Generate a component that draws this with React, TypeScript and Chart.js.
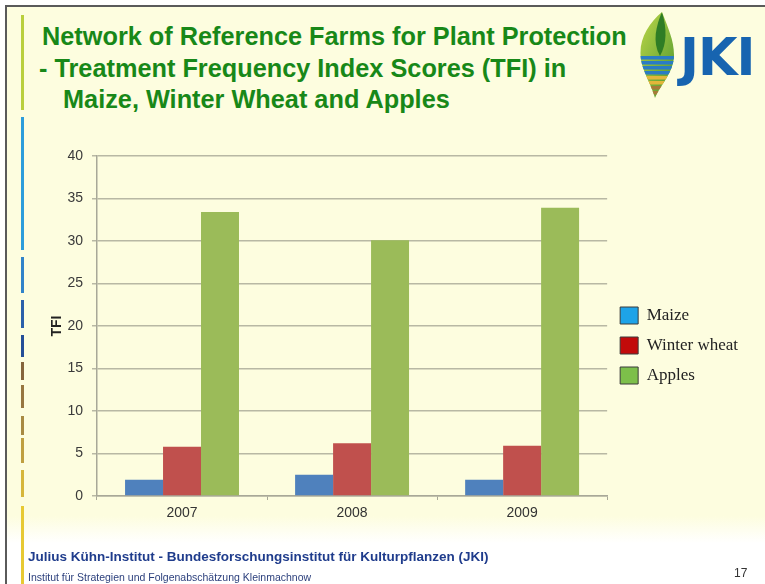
import React, { useEffect, useRef } from "react";
import { Chart, registerables } from "chart.js";

Chart.register(...registerables);

const categories = ["2007", "2008", "2009"];
const seriesNames = ["Maize", "Winter wheat", "Apples"];
const maizeValues = [1.9, 2.5, 1.9];
const wheatValues = [5.8, 6.2, 5.9];
const applesValues = [33.4, 30.1, 33.9];
const barColors = ["#4f81bd", "#c0504d", "#9bbb59"];
const legendColors = ["#1ea3e8", "#c20a0a", "#7dbf4a"];
const yTickStep = 5;
const yMin = 0;
const yMax = 40;

const titleLines = [
  "Network of Reference Farms for Plant Protection",
  "- Treatment Frequency Index Scores (TFI) in",
  "Maize, Winter Wheat and Apples",
];
const footerMain = "Julius Kühn-Institut - Bundesforschungsinstitut für Kulturpflanzen (JKI)";
const footerSub = "Institut für Strategien und Folgenabschätzung Kleinmachnow";
const pageNumber = "17";

const stripeSegments: [number, number, string][] = [
  [15, 110, "#b9cf3c"],
  [117, 250, "#2c9ddb"],
  [257, 293, "#3183c9"],
  [300, 328, "#2b60aa"],
  [335, 357, "#244e97"],
  [362, 380, "#86653c"],
  [385, 408, "#977640"],
  [416, 435, "#a88a42"],
  [438, 463, "#bf9f40"],
  [470, 497, "#d6b63a"],
  [506, 584, "#e7c933"],
];

export default function App() {
  const canvasRef = useRef<HTMLCanvasElement | null>(null);

  useEffect(() => {
    const canvas = canvasRef.current;
    if (!canvas) return;
    const tickFont = { family: "'Liberation Sans', Arial, sans-serif", size: 14 };
    const chart = new Chart(canvas, {
      type: "bar",
      data: {
        labels: categories,
        datasets: [
          { label: seriesNames[0], data: maizeValues, backgroundColor: barColors[0] },
          { label: seriesNames[1], data: wheatValues, backgroundColor: barColors[1] },
          { label: seriesNames[2], data: applesValues, backgroundColor: barColors[2] },
        ],
      },
      options: {
        responsive: false,
        animation: false,
        maintainAspectRatio: false,
        layout: { padding: { left: 40, top: 156, right: 17, bottom: 58 } },
        datasets: { bar: { categoryPercentage: 0.67, barPercentage: 1.0 } },
        plugins: {
          tooltip: { enabled: false },
          legend: {
            position: "right",
            align: "start",
            title: { display: true, text: "", font: { size: 10 }, padding: { top: 126, bottom: 0 } },
            labels: {
              boxWidth: 18,
              boxHeight: 17,
              padding: 13,
              color: "#222222",
              font: { family: "'Liberation Serif', 'Times New Roman', serif", size: 17 },
              generateLabels: () =>
                seriesNames.map((n, i) => ({
                  text: n,
                  fillStyle: legendColors[i],
                  strokeStyle: "#3a3a3a",
                  lineWidth: 1,
                  hidden: false,
                  datasetIndex: i,
                  fontColor: "#222222",
                })),
            },
          },
        },
        scales: {
          x: {
            grid: {
              display: true,
              drawOnChartArea: false,
              drawTicks: true,
              tickLength: 4,
              color: "#a8a898",
              offset: true,
            },
            border: { display: true, color: "#a8a898", width: 1.5 },
            ticks: { font: tickFont, color: "#333333", padding: 5 },
            afterFit: (s: any) => {
              s.height = 30;
            },
          },
          y: {
            min: yMin,
            max: yMax,
            ticks: { stepSize: yTickStep, font: tickFont, color: "#3a3a3a", padding: 9 },
            grid: { color: "#b8b8a4", lineWidth: 1.5, tickLength: 5 },
            border: { display: true, color: "#a8a898", width: 1.5 },
            title: {
              display: true,
              text: "TFI",
              color: "#222222",
              font: { family: "'Liberation Sans', Arial, sans-serif", size: 14, weight: "bold" },
              padding: { top: 9, bottom: 0 },
            },
            afterFit: (s: any) => {
              s.width = 57;
            },
          },
        },
      },
    } as any);
    return () => chart.destroy();
  }, []);

  const titleStyle: React.CSSProperties = {
    position: "absolute",
    fontFamily: "'Liberation Sans', Arial, sans-serif",
    fontWeight: "bold",
    fontSize: 25.3,
    color: "#188818",
    whiteSpace: "nowrap",
    lineHeight: "30px",
  };

  return (
    <div
      style={{
        position: "fixed",
        left: 0,
        top: 0,
        width: 765,
        height: 584,
        background: "#ffffff",
        overflow: "hidden",
      }}
    >
      {/* slide background */}
      <div
        style={{
          position: "absolute",
          left: 7,
          top: 7,
          width: 758,
          height: 536,
          background: "linear-gradient(to bottom, #fdfddf 0%, #fdfddf 95%, #ffffff 100%)",
        }}
      />
      {/* frame */}
      <div style={{ position: "absolute", left: 5, top: 5, width: 760, height: 2, background: "#5a5a5a" }} />
      <div style={{ position: "absolute", left: 5, top: 5, width: 2, height: 579, background: "#5a5a5a" }} />
      {/* decorative stripe */}
      {stripeSegments.map(([y0, y1, c], i) => (
        <div key={i} style={{ position: "absolute", left: 21, top: y0, width: 3, height: y1 - y0, background: c }} />
      ))}
      {/* title */}
      <div style={{ ...titleStyle, left: 42, top: 21 }}>{titleLines[0]}</div>
      <div style={{ ...titleStyle, left: 39, top: 53 }}>{titleLines[1]}</div>
      <div style={{ ...titleStyle, left: 63, top: 84 }}>{titleLines[2]}</div>
      {/* logo */}
      <svg style={{ position: "absolute", left: 636, top: 10 }} width={44} height={90} viewBox="0 0 44 90">
        <defs>
          <clipPath id="leafClip">
            <path d="M26 2 C12 14 2 30 5 50 C7 62 15 74 19 88 C25 74 38 62 38 45 C38 30 32 18 26 2 Z" />
          </clipPath>
          <linearGradient id="leafGrad" x1="0" y1="0" x2="1" y2="1">
            <stop offset="0" stopColor="#c7dc4a" />
            <stop offset="1" stopColor="#3f8f2c" />
          </linearGradient>
        </defs>
        <g clipPath="url(#leafClip)">
          <rect x="0" y="0" width="44" height="90" fill="url(#leafGrad)" />
          {[46, 51, 56, 61].map((y, i) => (
            <rect key={"b" + i} x="0" y={y} width="44" height="3.5" fill="#2a7cc4" />
          ))}
          {[66, 71, 76, 81].map((y, i) => (
            <rect key={"y" + i} x="0" y={y} width="44" height="3.5" fill={i < 2 ? "#e2b63a" : "#a87a38"} />
          ))}
          <path d="M26 2 C20 16 16 32 24 46 C31 34 31 18 26 2 Z" fill="#2f7d25" />
        </g>
      </svg>
      <div
        style={{
          position: "absolute",
          left: 680,
          top: 30,
          fontFamily: "'DejaVu Sans', sans-serif",
          fontWeight: "bold",
          fontSize: 51,
          lineHeight: "56px",
          color: "#1764b0",
          letterSpacing: -1,
        }}
      >
        JKI
      </div>
      {/* chart */}
      <canvas
        ref={canvasRef}
        width={765}
        height={584}
        style={{ position: "absolute", left: 0, top: 0, width: 765, height: 584 }}
      />
      {/* footer */}
      <div
        style={{
          position: "absolute",
          left: 28,
          top: 549,
          fontFamily: "'Liberation Sans', Arial, sans-serif",
          fontWeight: "bold",
          fontSize: 13.5,
          color: "#1f3c8c",
          whiteSpace: "nowrap",
        }}
      >
        {footerMain}
      </div>
      <div
        style={{
          position: "absolute",
          left: 28,
          top: 571,
          fontFamily: "'Liberation Sans', Arial, sans-serif",
          fontSize: 10.5,
          color: "#2b3f7c",
          whiteSpace: "nowrap",
        }}
      >
        {footerSub}
      </div>
      <div
        style={{
          position: "absolute",
          left: 734,
          top: 566,
          fontFamily: "'Liberation Sans', sans-serif",
          fontSize: 12,
          color: "#333333",
        }}
      >
        {pageNumber}
      </div>
    </div>
  );
}
